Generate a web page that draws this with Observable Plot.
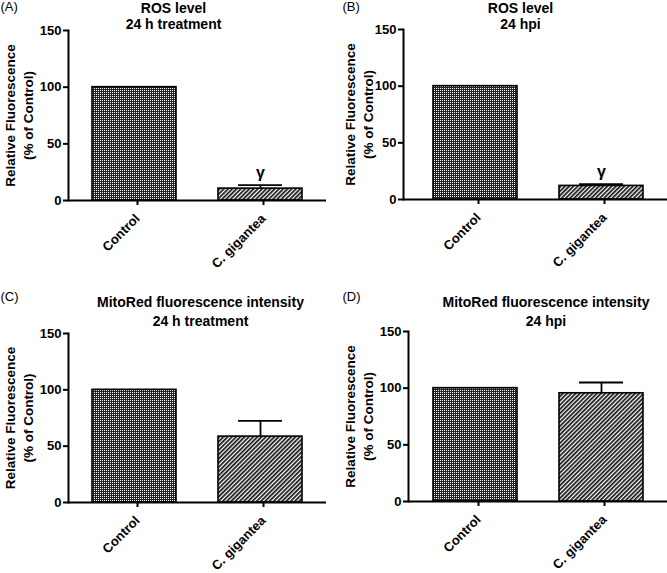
<!DOCTYPE html>
<html><head><meta charset="utf-8">
<script src="https://cdn.jsdelivr.net/npm/d3@7"></script>
<script src="https://cdn.jsdelivr.net/npm/@observablehq/plot@0.6"></script>
<style>
body{margin:0;background:#fff;}
#wrap{position:relative;width:667px;height:573px;overflow:hidden;background:#fff;}
.panel{position:absolute;}
</style></head><body>
<svg width="0" height="0" style="position:absolute"><defs>
<pattern id="patCheck" width="2" height="2" patternUnits="userSpaceOnUse"><rect width="2" height="2" fill="#222"/><rect width="1" height="1" fill="#fff"/></pattern>
<pattern id="patHatch" width="3" height="3" patternUnits="userSpaceOnUse" patternTransform="rotate(45)"><rect width="3" height="3" fill="#fff"/><rect width="1.7" height="3" fill="#111"/></pattern>
</defs></svg>
<div id="wrap"></div>
<script>
// ---- data ----
const categories = ["Control", "C. gigantea"];
const yTicks = [0, 50, 100, 150];
const panelLabels = ["(A)", "(B)", "(C)", "(D)"];
const titles = [
  "ROS level\n24 h treatment",
  "ROS level\n24 hpi",
  "MitoRed fluorescence intensity\n24 h treatment",
  "MitoRed fluorescence intensity\n24 hpi"
];
const yLabel = "Relative Fluorescence\n(% of Control)";
const rosTreatmentMean = [100, 10.5];
const rosTreatmentErr = [0, 3];
const rosHpiMean = [100, 12];
const rosHpiErr = [0, 1.5];
const mitoTreatmentMean = [100, 58.5];
const mitoTreatmentErr = [0, 14];
const mitoHpiMean = [100, 95.5];
const mitoHpiErr = [0, 9.5];
const marksA = ["", "γ"];
const marksB = ["", "γ"];
const marksC = ["", ""];
const marksD = ["", ""];

const series = [
  [rosTreatmentMean, rosTreatmentErr, marksA],
  [rosHpiMean, rosHpiErr, marksB],
  [mitoTreatmentMean, mitoTreatmentErr, marksC],
  [mitoHpiMean, mitoHpiErr, marksD]
];

// ---- layout (positions / styles) ----
const layout = [
  {left:0,   top:0,   width:333, height:290, mL:68, mR:7, mT:30, mB:90, pO:0.181, align:0.5,  titleDx:-24, titleDy:-29, titleLH:1.15, labX:0,  labY:1, yLabDx:-50},
  {left:330, top:0,   width:337, height:290, mL:73, mR:0, mT:29, mB:91, pO:0.205, align:0.56, titleDx:-15, titleDy:-28, titleLH:1.15, labX:12, labY:1, yLabDx:-45},
  {left:0,   top:290, width:333, height:283, mL:68, mR:7, mT:43, mB:71, pO:0.181, align:0.5,  titleDx:3,   titleDy:-40, titleLH:1.35, labX:0,  labY:1, yLabDx:-50},
  {left:330, top:290, width:337, height:283, mL:78, mR:0, mT:41, mB:72, pO:0.185, align:0.51, titleDx:8,   titleDy:-38, titleLH:1.35, labX:12, labY:1, yLabDx:-50}
];
const fills = ["url(#patCheck)", "url(#patHatch)"];

const wrap = document.getElementById("wrap");
series.forEach(([means, errs, sig], i) => {
  const L = layout[i];
  const data = categories.map((c, j) => ({cat: c, value: means[j], err: errs[j], sig: sig[j]}));
  const withErr = data.filter(d => d.err > 0);
  const withSig = data.filter(d => d.sig);
  const chart = Plot.plot({
    width: L.width, height: L.height,
    marginLeft: L.mL, marginRight: L.mR, marginTop: L.mT, marginBottom: L.mB,
    style: {fontFamily: "'Liberation Sans', Arial, sans-serif", fontSize: "13px", fontWeight: "bold", color: "#000", background: "transparent", overflow: "visible"},
    x: {domain: categories, paddingInner: 0.33, paddingOuter: L.pO, align: L.align, label: null},
    y: {domain: [0, 150], label: null},
    marks: [
      Plot.barY(data.filter(d => d.cat === categories[0]), {x: "cat", y: "value", fill: fills[0], stroke: "#000", strokeWidth: 1.6}),
      Plot.barY(data.filter(d => d.cat === categories[1]), {x: "cat", y: "value", fill: fills[1], stroke: "#000", strokeWidth: 1.6}),
      Plot.ruleX(withErr, {x: "cat", y1: "value", y2: d => d.value + d.err, stroke: "#000", strokeWidth: 1.8}),
      Plot.tickY(withErr, {x: "cat", y: d => d.value + d.err, stroke: "#000", strokeWidth: 1.8, inset: 20}),
      Plot.text(withSig, {x: "cat", y: d => d.value + d.err, text: "sig", dy: -12, fontSize: 16, fontWeight: "bold"}),
      Plot.axisY({ticks: yTicks, tickSize: 5, tickPadding: 2, label: null, strokeWidth: 2, fontSize: 13}),
      Plot.axisX({tickSize: 5, tickPadding: 11, dx: 3, tickRotate: -45, label: null, strokeWidth: 2, fontSize: 13}),
      Plot.frame({anchor: "left", strokeWidth: 2}),
      Plot.ruleY([0], {strokeWidth: 2}),
      Plot.text([yLabel], {frameAnchor: "left", rotate: -90, dx: L.yLabDx, lineAnchor: "middle", textAnchor: "middle", fontSize: 13.5, fontWeight: "bold", lineHeight: 1.33}),
      Plot.text([titles[i]], {frameAnchor: "top", dx: L.titleDx, dy: L.titleDy, lineAnchor: "top", fontSize: 14, fontWeight: "bold", lineHeight: L.titleLH}),
      Plot.text([panelLabels[i]], {frameAnchor: "top-left", dx: L.labX - L.mL, dy: L.labY - L.mT, lineAnchor: "top", textAnchor: "start", fontSize: 13, fontWeight: "normal"})
    ]
  });
  chart.classList.add("panel");
  chart.style.left = L.left + "px";
  chart.style.top = L.top + "px";
  wrap.appendChild(chart);
});
</script>
</body></html>
